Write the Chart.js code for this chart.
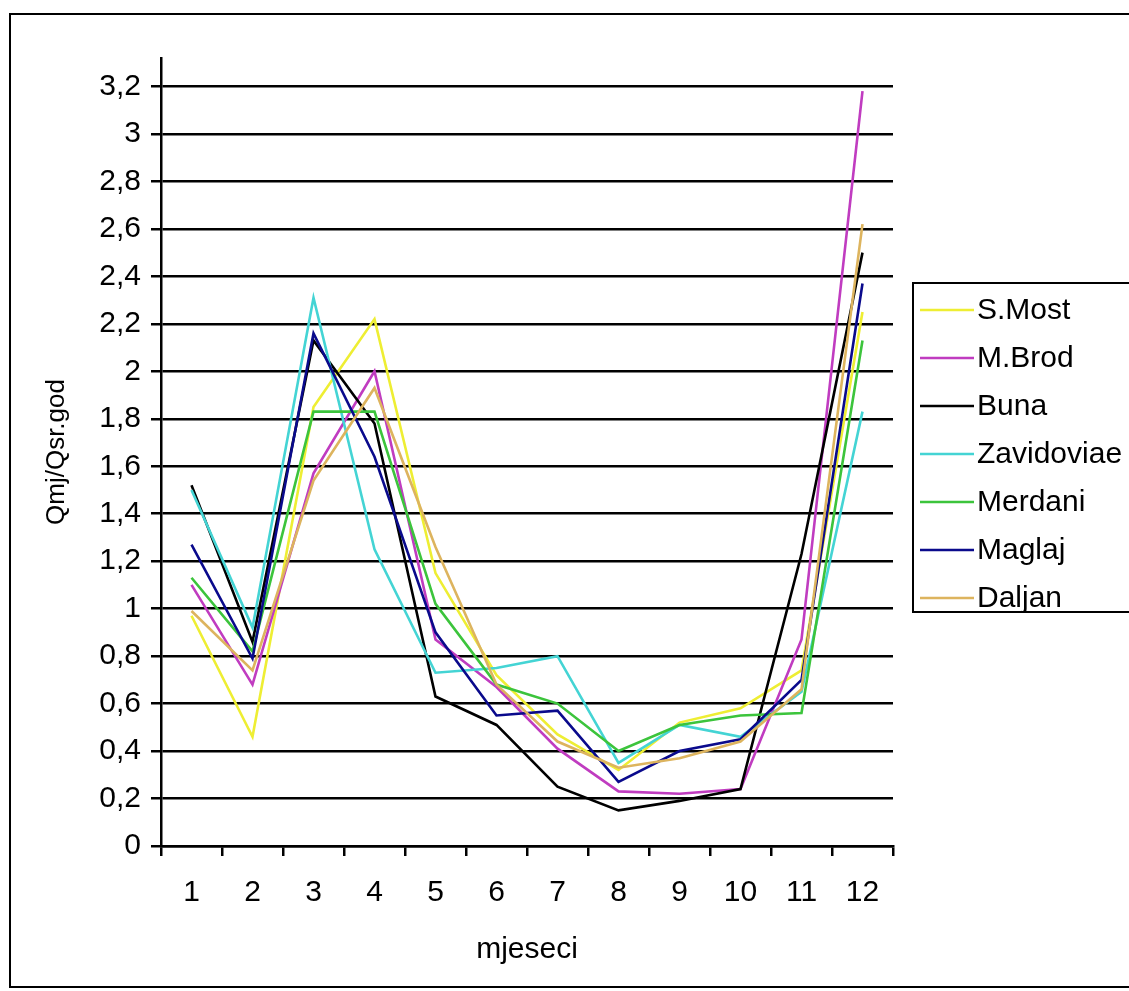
<!DOCTYPE html>
<html><head><meta charset="utf-8">
<script src="https://cdn.jsdelivr.net/npm/chart.js@4/dist/chart.umd.min.js"></script>
<style>html,body{margin:0;padding:0;background:#fff;}canvas{display:block;}</style>
</head><body>
<canvas id="c" width="1129" height="991"></canvas>
<script>
const months = ['1','2','3','4','5','6','7','8','9','10','11','12'];
const seriesNames = ['S.Most','M.Brod','Buna','Zavidoviae','Merdani','Maglaj','Daljan'];
const sMost      = [0.97, 0.46, 1.85, 2.22, 1.15, 0.72, 0.47, 0.32, 0.52, 0.58, 0.74, 2.25];
const mBrod      = [1.10, 0.68, 1.57, 2.00, 0.87, 0.67, 0.41, 0.23, 0.22, 0.24, 0.87, 3.18];
const buna       = [1.52, 0.86, 2.13, 1.78, 0.63, 0.51, 0.25, 0.15, 0.19, 0.24, 1.23, 2.50];
const zavidoviae = [1.50, 0.92, 2.31, 1.25, 0.73, 0.75, 0.80, 0.35, 0.51, 0.46, 0.65, 1.83];
const merdani    = [1.13, 0.82, 1.83, 1.83, 1.02, 0.68, 0.60, 0.40, 0.51, 0.55, 0.56, 2.13];
const maglaj     = [1.27, 0.79, 2.16, 1.64, 0.90, 0.55, 0.57, 0.27, 0.40, 0.45, 0.70, 2.37];
const daljan     = [0.99, 0.74, 1.54, 1.93, 1.26, 0.68, 0.44, 0.33, 0.37, 0.44, 0.66, 2.62];
const seriesValues = [sMost, mBrod, buna, zavidoviae, merdani, maglaj, daljan];
const seriesColors = ['#EEEE33', '#C03CC0', '#000000', '#44D4D4', '#3CC43C', '#0A0A8C', '#DDB45E'];
const yTickValues = [0,0.2,0.4,0.6,0.8,1,1.2,1.4,1.6,1.8,2,2.2,2.4,2.6,2.8,3,3.2];
const yTickLabels = ['0','0,2','0,4','0,6','0,8','1','1,2','1,4','1,6','1,8','2','2,2','2,4','2,6','2,8','3','3,2'];
const xTitle = 'mjeseci';
const yTitle = 'Qmj/Qsr.god';

const FONT = "'Liberation Sans',Arial,sans-serif";
Chart.defaults.font.family = FONT;
Chart.defaults.color = '#000';

const framePlugin = {
  id: 'frame',
  beforeDraw(chart) {
    const ctx = chart.ctx;
    ctx.save();
    ctx.fillStyle = '#fff';
    ctx.fillRect(0, 0, chart.width, chart.height);
    ctx.restore();
  },
  afterDraw(chart) {
    const ctx = chart.ctx;
    ctx.save();
    ctx.strokeStyle = '#000';
    ctx.lineWidth = 2;
    ctx.strokeRect(10, 14, 1130, 973);
    // legend box
    const lx = 913, ly = 283, lh = 329;
    ctx.fillStyle = '#fff';
    ctx.fillRect(lx, ly, 230, lh);
    ctx.strokeRect(lx, ly, 230, lh);
    ctx.font = "30px " + FONT;
    ctx.textBaseline = 'middle';
    ctx.textAlign = 'left';
    chart.data.datasets.forEach((ds, i) => {
      const y = 310 + i * 48;
      ctx.strokeStyle = ds.borderColor;
      ctx.lineWidth = 2.5;
      ctx.beginPath();
      ctx.moveTo(920, y);
      ctx.lineTo(974, y);
      ctx.stroke();
      ctx.fillStyle = '#000';
      ctx.fillText(ds.label, 977, y + 1);
    });
    ctx.restore();
  }
};

const datasets = seriesNames.map((name, i) => ({
  label: name,
  data: seriesValues[i],
  borderColor: seriesColors[i],
  backgroundColor: seriesColors[i],
  borderWidth: 2.6,
  pointRadius: 0,
  tension: 0,
  fill: false,
  order: seriesNames.length - i
}));

new Chart(document.getElementById('c'), {
  type: 'line',
  data: { labels: months, datasets },
  options: {
    responsive: false,
    animation: false,
    layout: { padding: { left: 20, right: 236, top: 58, bottom: 0 } },
    plugins: { legend: { display: false }, tooltip: { enabled: false } },
    scales: {
      x: {
        type: 'category',
        offset: true,
        grid: { drawOnChartArea: false, drawTicks: true, tickLength: 10, offset: true, color: '#000', lineWidth: 2.5 },
        border: { display: true, color: '#000', width: 2.5 },
        ticks: { font: { size: 30 }, padding: 19, maxRotation: 0, autoSkip: false },
        title: { display: true, text: xTitle, font: { size: 30 }, padding: { top: 0, bottom: 23 } },
        afterFit(scale) { scale.height = 145; }
      },
      y: {
        min: 0,
        max: 3.32,
        afterBuildTicks(scale) { scale.ticks = yTickValues.map(v => ({ value: v })); },
        grid: { drawOnChartArea: true, drawTicks: true, tickLength: 10, color: '#000', lineWidth: 2.5 },
        border: { display: true, color: '#000', width: 2.5 },
        ticks: {
          font: { size: 30 }, padding: 10,
          callback(value) {
            const idx = yTickValues.findIndex(v => Math.abs(v - value) < 1e-6);
            return idx >= 0 ? yTickLabels[idx] : '';
          }
        },
        title: { display: true, text: yTitle, font: { size: 26 }, padding: { top: 21, bottom: 0 } },
        afterFit(scale) { scale.width = 141; }
      }
    }
  },
  plugins: [framePlugin]
});
</script>
</body></html>
